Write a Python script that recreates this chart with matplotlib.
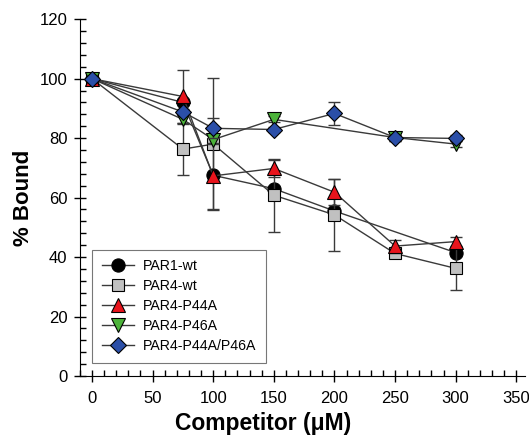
import matplotlib
matplotlib.use("Agg")
import matplotlib.pyplot as plt
from matplotlib.ticker import MultipleLocator

plt.rcParams['font.family'] = ['Liberation Sans', 'DejaVu Sans']

# competitor concentration (uM) and % bound
x_par1_wt = [0, 75, 100, 150, 200, 300]
y_par1_wt = [100, 92, 67.5, 63, 55.5, 41.5]

x_par4_wt = [0, 75, 100, 150, 200, 250, 300]
y_par4_wt = [100, 76.3, 78, 60.8, 54.2, 41.2, 36.2]
e_par4_wt = [0, 8.7, 22.3, 12.3, 12.1, 1.5, 7.3]

x_p44a = [0, 75, 100, 150, 200, 250, 300]
y_p44a = [100, 94, 67.3, 69.8, 61.8, 43.7, 45.2]
e_p44a = [0, 8.8, 11, 3, 4.3, 2.2, 1.5]

x_p46a = [0, 75, 100, 150, 250, 300]
y_p46a = [100, 86.3, 79.5, 86.3, 80.2, 78]
e_p46a = [0, 1.5, 1.5, 1, 1, 1]

x_p44a_p46a = [0, 75, 100, 150, 200, 250, 300]
y_p44a_p46a = [100, 88.8, 83.3, 82.9, 88.3, 80.2, 79.9]
e_p44a_p46a = [0, 1, 3.3, 1, 3.8, 1, 1]

series = [
    (x_par1_wt, y_par1_wt, None, 'o', 9.5, 'black', 'PAR1-wt'),
    (x_par4_wt, y_par4_wt, e_par4_wt, 's', 8, '#c0c0c0', 'PAR4-wt'),
    (x_p44a, y_p44a, e_p44a, '^', 9.5, '#e8141c', 'PAR4-P44A'),
    (x_p46a, y_p46a, e_p46a, 'v', 9.5, '#4cb33a', 'PAR4-P46A'),
    (x_p44a_p46a, y_p44a_p46a, e_p44a_p46a, 'D', 7.8, '#2b4fa8', 'PAR4-P44A/P46A'),
]

fig = plt.figure(figsize=(5.29, 4.36), dpi=100)
ax = fig.add_axes([0.151, 0.1376, 0.841, 0.8184])

for i, (xs, ys, es, mk, ms, fc, lab) in enumerate(series):
    if es is not None:
        ax.errorbar(xs, ys, yerr=es, fmt='none', ecolor='#3a3a3a', elinewidth=1.0,
                    capsize=4, capthick=1.0, zorder=2 + i)
    ax.plot(xs, ys, '-', marker=mk, ms=ms, mfc=fc, mec='black', mew=0.8,
            color='#3a3a3a', lw=1.0, label=lab, zorder=3 + i)

ax.set_xlim(-10, 357)
ax.set_ylim(0, 120)
ax.xaxis.set_major_locator(MultipleLocator(50))
ax.xaxis.set_minor_locator(MultipleLocator(10))
ax.yaxis.set_major_locator(MultipleLocator(20))
ax.yaxis.set_minor_locator(MultipleLocator(4))
ax.tick_params(which='major', direction='inout', length=8, width=1, labelsize=12)
ax.tick_params(axis='x', which='major', pad=7)
ax.tick_params(axis='y', which='major', pad=5)
ax.tick_params(which='minor', direction='in', length=4, width=1)
ax.spines['top'].set_visible(False)
ax.spines['right'].set_visible(False)

ax.set_xlabel('Competitor (\u03bcM)', fontsize=16.5, fontweight='bold')
ax.xaxis.set_label_coords(0.411, -0.1)
ax.set_ylabel('% Bound', fontsize=16, fontweight='bold', labelpad=4)

leg = ax.legend(loc='lower left', bbox_to_anchor=(0.027, 0.036), borderaxespad=0,
                fontsize=10.2, frameon=True, fancybox=False, edgecolor='#555555',
                handlelength=2.3, handletextpad=0.6, labelspacing=0.42,
                borderpad=0.7)
leg.get_frame().set_linewidth(0.8)

fig.savefig('out.png', dpi=100)
